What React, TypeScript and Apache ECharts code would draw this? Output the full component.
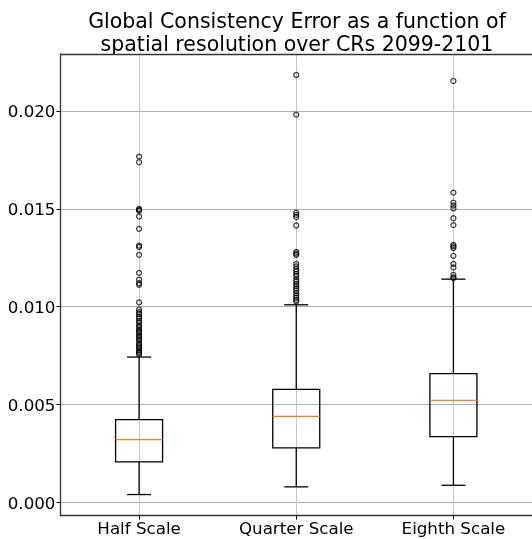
import React, { useEffect, useRef } from 'react';
import * as echarts from 'echarts';

const categories = ['Half Scale', 'Quarter Scale', 'Eighth Scale'];
const lowerWhisker = [0.000408, 0.0008, 0.00088];
const q1 = [0.002076, 0.00279, 0.003367];
const median = [0.003214, 0.0044, 0.00522];
const q3 = [0.004235, 0.00578, 0.00658];
const upperWhisker = [0.00743, 0.0101, 0.01141];

const halfOutliers = [
  0.01767, 0.01738, 0.015, 0.01495, 0.0149, 0.01461, 0.01398, 0.01312, 0.01305, 0.01265,
  0.01173, 0.01138, 0.0112, 0.01112, 0.01022, 0.00985, 0.00972, 0.00962, 0.0095, 0.00941,
  0.00928, 0.00919, 0.00905, 0.00896, 0.00884, 0.00876, 0.00866, 0.00853, 0.00846, 0.00835,
  0.00827, 0.00814, 0.00806, 0.00797, 0.0079, 0.0078, 0.00771, 0.00764, 0.00756,
];
const quarterOutliers = [
  0.02184, 0.01981, 0.01481, 0.01469, 0.01458, 0.01415, 0.0128, 0.01272, 0.01265, 0.01219,
  0.01206, 0.01192, 0.0118, 0.01167, 0.01156, 0.0114, 0.01128, 0.01116, 0.01105, 0.01094,
  0.01083, 0.0107, 0.01058, 0.01046, 0.01035, 0.01027,
];
const eighthOutliers = [
  0.02153, 0.01583, 0.01532, 0.01517, 0.01502, 0.01452, 0.01417, 0.01316, 0.01308, 0.013,
  0.0126, 0.01219, 0.01201, 0.01163, 0.0115, 0.01146,
];

const titleLines = ['Global Consistency Error as a function of', 'spatial resolution over CRs 2099-2101'];

export default function App() {
  const ref = useRef<HTMLDivElement>(null);
  useEffect(() => {
    const chart = echarts.init(ref.current!, null, { renderer: 'svg' });
    const boxData = categories.map((_, i) => [i, lowerWhisker[i], q1[i], median[i], q3[i], upperWhisker[i]]);
    const outlierData = [
      ...halfOutliers.map((v) => [0, v]),
      ...quarterOutliers.map((v) => [1, v]),
      ...eighthOutliers.map((v) => [2, v]),
    ];
    const font = 'DejaVu Sans';
    const spine = { color: '#333', width: 1.3 };
    chart.setOption({
      animation: false,
      grid: { left: 60.5, top: 54, width: 475, height: 461.5, show: false },
      graphic: [
        {
          type: 'text',
          x: 297,
          y: 9,
          style: {
            text: titleLines.join('\n'),
            fontFamily: font,
            fontSize: 20.5,
            lineHeight: 23.5,
            fill: '#000',
            align: 'center',
            verticalAlign: 'top',
          },
        },
      ],
      xAxis: [
        {
          type: 'category',
          data: categories,
          boundaryGap: true,
          axisLine: { show: true, onZero: false, lineStyle: spine },
          axisTick: { show: true, alignWithLabel: true, length: 4, lineStyle: { color: '#000' } },
          axisLabel: { color: '#000', fontFamily: font, fontSize: 16.7, margin: 4 },
          splitLine: { show: true, alignWithLabel: true, lineStyle: { color: '#c8c8c8', width: 1 } },
        },
        {
          type: 'category',
          position: 'top',
          data: categories,
          axisLine: { show: true, onZero: false, lineStyle: spine },
          axisTick: { show: false },
          axisLabel: { show: false },
          splitLine: { show: false },
        },
      ],
      yAxis: {
        type: 'value',
        min: -0.000663,
        max: 0.02291,
        splitNumber: 5,
        axisLine: { show: true, onZero: false, lineStyle: spine },
        axisTick: { show: true, length: 4, lineStyle: { color: '#000' } },
        axisLabel: {
          color: '#000',
          fontFamily: font,
          fontSize: 16.7,
          margin: 5,
          showMinLabel: false,
          showMaxLabel: false,
          formatter: (v: number) => v.toFixed(3),
        },
        splitLine: { show: true, lineStyle: { color: '#b0b0b0', width: 1 } },
      },
      series: [
        {
          type: 'custom',
          data: boxData,
          encode: { x: 0, y: [1, 2, 3, 4, 5] },
          renderItem: (params: any, api: any) => {
            const idx = api.value(0);
            const [cx, yLow] = api.coord([idx, api.value(1)]);
            const yQ1 = api.coord([idx, api.value(2)])[1];
            const yMed = api.coord([idx, api.value(3)])[1];
            const yQ3 = api.coord([idx, api.value(4)])[1];
            const yHigh = api.coord([idx, api.value(5)])[1];
            const half = 23.5;
            const cap = 12;
            const s = { stroke: '#000', lineWidth: 1.3, fill: 'none' };
            return {
              type: 'group',
              children: [
                { type: 'line', shape: { x1: cx, y1: yLow, x2: cx, y2: yQ1 }, style: s },
                { type: 'line', shape: { x1: cx, y1: yQ3, x2: cx, y2: yHigh }, style: s },
                { type: 'line', shape: { x1: cx - cap, y1: yLow, x2: cx + cap, y2: yLow }, style: s },
                { type: 'line', shape: { x1: cx - cap, y1: yHigh, x2: cx + cap, y2: yHigh }, style: s },
                { type: 'rect', shape: { x: cx - half, y: yQ3, width: 2 * half, height: yQ1 - yQ3 }, style: s },
                {
                  type: 'line',
                  shape: { x1: cx - half, y1: yMed, x2: cx + half, y2: yMed },
                  style: { stroke: '#ff7f0e', lineWidth: 1.4 },
                },
              ],
            };
          },
        },
        {
          type: 'scatter',
          data: outlierData,
          symbol: 'circle',
          symbolSize: 5,
          itemStyle: { color: 'rgba(0,0,0,0)', borderColor: '#000', borderWidth: 1.2 },
          z: 3,
        },
      ],
    });
    return () => chart.dispose();
  }, []);
  return <div ref={ref} style={{ position: 'fixed', left: 0, top: 0, width: 532, height: 539 }} />;
}
